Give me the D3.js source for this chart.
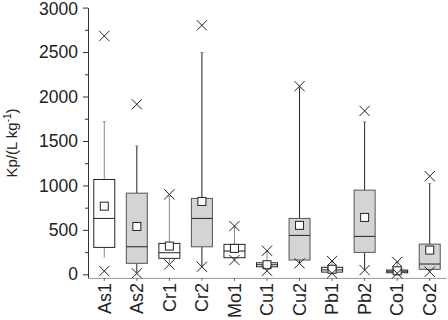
<!DOCTYPE html>
<html>
<head>
<meta charset="utf-8">
<script src="https://cdn.jsdelivr.net/npm/d3@7"></script>
<style>
    body { margin: 0; background: #fff; }
    text { font-family: "Liberation Sans", Arial, sans-serif; fill: #222; }
</style>
</head>
<body>
<div id="chart"></div>
<script>
// values, Kp in L/kg
const categories = ["As1", "As2", "Cr1", "Cr2", "Mo1", "Cu1", "Cu2", "Pb1", "Pb2", "Co1", "Co2"];
const q1 = [303, 124, 180, 310, 187, 85, 161, 25, 247, 18, 56];
const median = [629, 310, 243, 629, 262, 108, 438, 50, 427, 35, 116];
const q3 = [1067, 913, 348, 854, 337, 130, 629, 79, 947, 48, 340];
const mean = [767, 539, 318, 820, 292, 108, 551, 57, 640, 40, 273];
const whiskerLow = [187, 20, 130, 90, 165, 45, 124, 15, 50, 15, 35];
const whiskerHigh = [1715, 1445, 880, 2494, 530, 255, 2100, 145, 1715, 135, 1022];
const minPoint = [37, 11, 112, 85, 161, 40, 124, 11, 48, 11, 29];
const maxPoint = [2681, 1913, 899, 2801, 543, 265, 2116, 150, 1838, 140, 1104];
const yTicks = [0, 500, 1000, 1500, 2000, 2500, 3000];

const GREY_FILL = "#d4d4d4";

const width = 448, height = 320;
const margin = { top: 7, right: 2, bottom: 42, left: 88 };

const svg = d3.select("#chart")
    .append("svg")
    .attr("width", width)
    .attr("height", height);

const x = d3.scaleBand()
    .domain(categories)
    .range([margin.left, width - margin.right])
    .padding(0);

const y = d3.scaleLinear()
    .domain([-40, 3000])
    .range([277.9, 7.6]);

const boxW = 21;

// minor ticks
svg.append("g")
    .attr("transform", `translate(${margin.left},0)`)
    .call(d3.axisLeft(y).tickValues(d3.range(250, 3000, 500)).tickSize(3).tickFormat(""))
    .call(g => g.select(".domain").remove())
    .call(g => g.selectAll("line").attr("stroke", "#333"));

// y axis
svg.append("g")
    .attr("transform", `translate(${margin.left},0)`)
    .call(d3.axisLeft(y).tickValues(yTicks).tickSize(5).tickSizeOuter(0).tickPadding(5).tickFormat(d3.format("d")))
    .call(g => g.select(".domain").attr("stroke", "#333"))
    .call(g => g.selectAll("line").attr("stroke", "#333"))
    .call(g => g.selectAll("text").style("font-size", "17.5px").attr("fill", "#222"))
    // top label sits right at the edge, nudge it down a touch
    .call(g => g.selectAll("text").filter(d => d === 3000).attr("dy", "0.42em"));

// x axis
svg.append("g")
    .attr("transform", `translate(0,${y(-40)})`)
    .call(d3.axisBottom(x).tickSize(3).tickSizeOuter(0))
    .call(g => g.select(".domain").attr("stroke", "#999"))
    .call(g => g.selectAll("line").attr("stroke", "#666"))
    .call(g => g.selectAll("text")
        .style("font-size", "18px")
        .attr("fill", "#222")
        .attr("text-anchor", "end")
        .attr("x", 0)
        .attr("y", 0)
        .attr("dy", "0.35em")
        .attr("transform", "translate(0,5) rotate(-90)"));

// y axis title
svg.append("text")
    .attr("transform", `translate(17,143) rotate(-90)`)
    .attr("text-anchor", "middle")
    .style("font-size", "15px")
    .html('Kp/(L kg<tspan dy="-6" font-size="10px">-1</tspan><tspan dy="6">)</tspan>');

const data = categories.map((c, i) => ({
    name: c,
    q1: q1[i], med: median[i], q3: q3[i], mean: mean[i],
    lo: whiskerLow[i], hi: whiskerHigh[i],
    min: minPoint[i], max: maxPoint[i],
    // the second sample of each element is shaded
    grey: /2$/.test(c)
}));

const box = svg.selectAll(".box")
    .data(data)
    .enter()
    .append("g")
    .attr("class", "box")
    .attr("transform", d => `translate(${x(d.name) + x.bandwidth() / 2},0)`);

// whiskers
box.append("line")
    .attr("y1", d => y(d.hi)).attr("y2", d => y(d.q3))
    .attr("stroke", d => d.grey ? "#222" : "#888");
box.append("line")
    .attr("y1", d => y(d.q1)).attr("y2", d => y(d.lo))
    .attr("stroke", d => d.grey ? "#222" : "#888");
box.append("line")
    .attr("x1", -1.5).attr("x2", 1.5)
    .attr("y1", d => y(d.hi)).attr("y2", d => y(d.hi))
    .attr("stroke", "#888");

box.append("rect")
    .attr("x", -boxW / 2)
    .attr("width", boxW)
    .attr("y", d => y(d.q3))
    .attr("height", d => Math.max(1, y(d.q1) - y(d.q3)))
    .attr("fill", d => d.grey ? GREY_FILL : "#fff")
    .attr("stroke", d => d.grey ? "#555" : "#222")
    .attr("stroke-width", 1);

box.append("line")
    .attr("x1", -boxW / 2).attr("x2", boxW / 2)
    .attr("y1", d => y(d.med)).attr("y2", d => y(d.med))
    .attr("stroke", "#222");

// mean marker
box.append("rect")
    .attr("x", -4).attr("width", 8)
    .attr("y", d => y(d.mean) - 4).attr("height", 8)
    .attr("fill", "#fff")
    .attr("stroke", "#222");

// min / max crosses
const cross = d3.symbol().type(d3.symbolX).size(70);
["min", "max"].forEach(k => {
    box.append("path")
        .attr("d", cross)
        .attr("transform", d => `translate(0,${y(d[k])})`)
        .attr("fill", "none")
        .attr("stroke", "#222")
        .attr("stroke-width", 1);
});
</script>
</body>
</html>
